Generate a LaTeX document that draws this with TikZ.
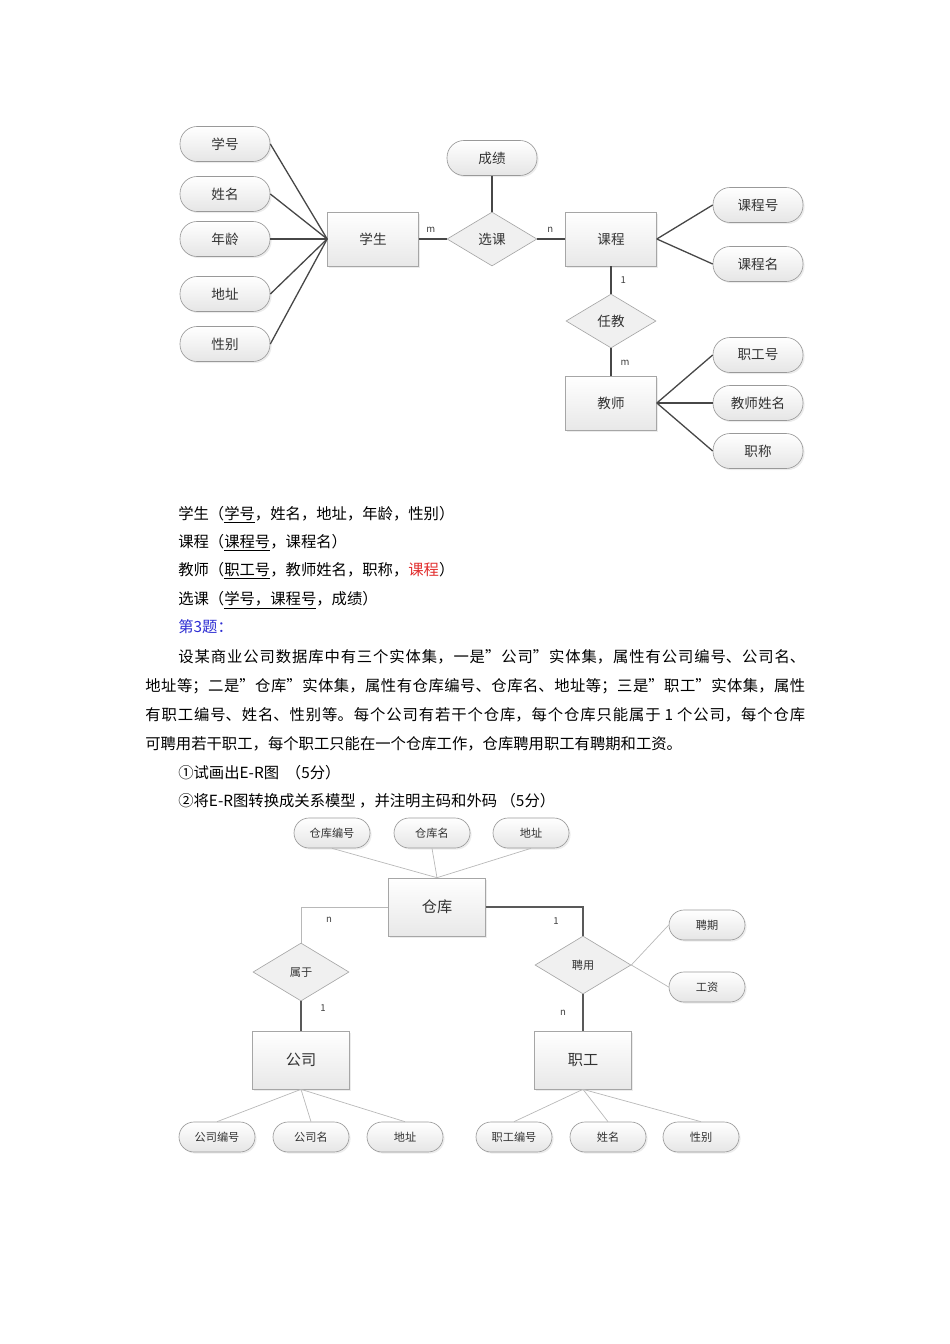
\documentclass[tikz,border=0pt]{standalone}
\usepackage{fontspec}
\newfontfamily\cjk{Noto Sans CJK SC}
\usepackage{xcolor}
\usetikzlibrary{shapes.geometric,shadows}
\definecolor{qblue}{RGB}{45,45,210}
\definecolor{qred}{RGB}{225,45,45}
\newcommand\pxu{0.626pt}
\XeTeXlinebreaklocale "zh"
\XeTeXlinebreakskip=0pt plus 2pt

\begin{document}
\begin{tikzpicture}[
    x=0.626pt, y=-0.626pt,
    font=\cjk,
    entity/.style={
		rectangle,
		draw=black!35,
		top color=white, bottom color=black!9,
		minimum width=91*\pxu,
		minimum height=54*\pxu,
		text=black!80,
		font=\cjk\fontsize{8.5}{10}\selectfont,
		drop shadow={shadow xshift=1pt, shadow yshift=-1pt, opacity=0.15}
	},
	attrib/.style={
		rectangle,
		rounded corners=17*\pxu,
		draw=black!40,
		top color=white, bottom color=black!10,
		minimum width=90*\pxu,
		minimum height=35*\pxu,
		text=black!80,
		font=\cjk\fontsize{8.5}{10}\selectfont,
		drop shadow={shadow xshift=1pt, shadow yshift=-1pt, opacity=0.15}
	},
	relation/.style={
		diamond,
		draw=black!35,
		fill=black!6,
		inner sep=0pt,
		minimum width=90*\pxu,
		minimum height=54*\pxu,
		text=black!80,
		font=\cjk\fontsize{8.5}{10}\selectfont
	},
	bentity/.style={entity, minimum width=97*\pxu, minimum height=58*\pxu, font=\cjk\fontsize{9.5}{11}\selectfont},
	battrib/.style={attrib, rounded corners=15*\pxu, minimum width=76*\pxu, minimum height=30*\pxu, font=\cjk\fontsize{7}{8}\selectfont},
	brelation/.style={relation, minimum width=96*\pxu, minimum height=58*\pxu, font=\cjk\fontsize{7}{8}\selectfont},
	link/.style={draw=black!72, line width=1.3*\pxu},
	thinlink/.style={draw=black!28, line width=0.7*\pxu},
	thicklink/.style={draw=black!65, line width=2*\pxu},
	card/.style={inner sep=0pt, text=black!75, font=\cjk\fontsize{6}{7}\selectfont},
	textline/.style={anchor=base west, inner sep=0pt, font=\cjk\fontsize{9.6}{18.2}\selectfont}
  ]
  \useasboundingbox (0,0) rectangle (950,1344);

  % first diagram
  \node [attrib] (xh) at (225,144) {学号};
  \node [attrib] (xm) at (225,194) {姓名};
  \node [attrib] (nl) at (225,239) {年龄};
  \node [attrib] (dz) at (225,294) {地址};
  \node [attrib] (xb) at (225,344) {性别};
  \node [entity] (xs) at (373,239) {学生};
  \node [relation] (xk) at (492,239) {选课};
  \node [attrib] (cj) at (492,158) {成绩};
  \node [entity] (kc) at (611,239) {课程};
  \node [attrib] (kch) at (758,205) {课程号};
  \node [attrib] (kcm) at (758,264) {课程名};
  \node [relation] (rj) at (611,321) {任教};
  \node [entity] (js) at (611,403) {教师};
  \node [attrib] (zgh) at (758,355) {职工号};
  \node [attrib] (jsxm) at (758,403) {教师姓名};
  \node [attrib] (zc) at (758,451) {职称};

  \foreach \a in {xh,xm,nl,dz,xb}
    \draw [link] (\a.east) -- (xs.west);
  \draw [link] (cj) -- (xk);
  \draw [link] (xs) -- node [card, above=6*\pxu, xshift=-2*\pxu] {m} (xk);
  \draw [link] (xk) -- node [card, above=6*\pxu, xshift=-1*\pxu] {n} (kc);
  \draw [link] (kc) -- node [card, right=9*\pxu] {1} (rj);
  \draw [link] (rj) -- node [card, right=9*\pxu, yshift=-1*\pxu] {m} (js);
  \foreach \a in {kch,kcm}
    \draw [link] (kc.east) -- (\a.west);
  \foreach \a in {zgh,jsxm,zc}
    \draw [link] (js.east) -- (\a.west);

  % text
  \node [textline] (t1) at (178,519) {学生（\underline{学号}，姓名，地址，年龄，性别）};
  \node [textline] (t2) at (178,547) {课程（\underline{课程号}，课程名）};
  \node [textline] (t3) at (178,575) {教师（\underline{职工号}，教师姓名，职称，\textcolor{qred}{课程}）};
  \node [textline] (t4) at (178,604) {选课（\underline{学号，课程号}，成绩）};
  \node [textline, text=qblue] (t5) at (178,632) {第3题：};
  \node [textline, text width=660*\pxu, align=justify] (t6) at (145,662) {\hspace*{20.7pt}设某商业公司数据库中有三个实体集，一是”公司”实体集，属性有公司编号、公司名、\linebreak
地址等；二是”仓库”实体集，属性有仓库编号、仓库名、地址等；三是”职工”实体集，属性\linebreak
有职工编号、姓名、性别等。每个公司有若干个仓库，每个仓库只能属于 1 个公司，每个仓库\linebreak
可聘用若干职工，每个职工只能在一个仓库工作，仓库聘用职工有聘期和工资。};
  \node [textline] (t7) at (178,778) {①试画出E-R图 \ （5分）};
  \node [textline] (t8) at (178,806) {②将E-R图转换成关系模型 ，并注明主码和外码 （5分）};

  % second diagram
  \node [battrib] (ckbh) at (332,833) {仓库编号};
  \node [battrib] (ckm) at (432,833) {仓库名};
  \node [battrib] (ckdz) at (531,833) {地址};
  \node [bentity] (ck) at (437,907) {仓库};
  \node [brelation] (sy) at (301,972) {属于};
  \node [bentity] (gs) at (301,1060) {公司};
  \node [brelation] (py) at (583,965) {聘用};
  \node [battrib] (pq) at (707,925) {聘期};
  \node [battrib] (gz) at (707,987) {工资};
  \node [bentity] (zg) at (583,1060) {职工};
  \node [battrib] (gsbh) at (217,1137) {公司编号};
  \node [battrib] (gsm) at (311,1137) {公司名};
  \node [battrib] (gsdz) at (405,1137) {地址};
  \node [battrib] (zgbh) at (514,1137) {职工编号};
  \node [battrib] (zgxm) at (608,1137) {姓名};
  \node [battrib] (zgxb) at (701,1137) {性别};

  \foreach \a in {ckbh,ckm,ckdz}
    \draw [thinlink] (\a.south) -- (ck.north);
  \draw [thinlink] (ck.west) -| (sy.north);
  \draw [thicklink] (ck.east) -| (py.north);
  \draw [thicklink] (sy) -- (gs);
  \draw [thicklink] (py) -- (zg);
  \draw [thinlink] (py.east) -- (pq.west);
  \draw [thinlink] (py.east) -- (gz.west);
  \foreach \a in {gsbh,gsm,gsdz}
    \draw [thinlink] (gs.south) -- (\a.north);
  \foreach \a in {zgbh,zgxm,zgxb}
    \draw [thinlink] (zg.south) -- (\a.north);

  \node [card] (c1) at (329,920) {n};
  \node [card] (c2) at (556,921) {1};
  \node [card] (c3) at (323,1008) {1};
  \node [card] (c4) at (563,1013) {n};
\end{tikzpicture}
\end{document}
